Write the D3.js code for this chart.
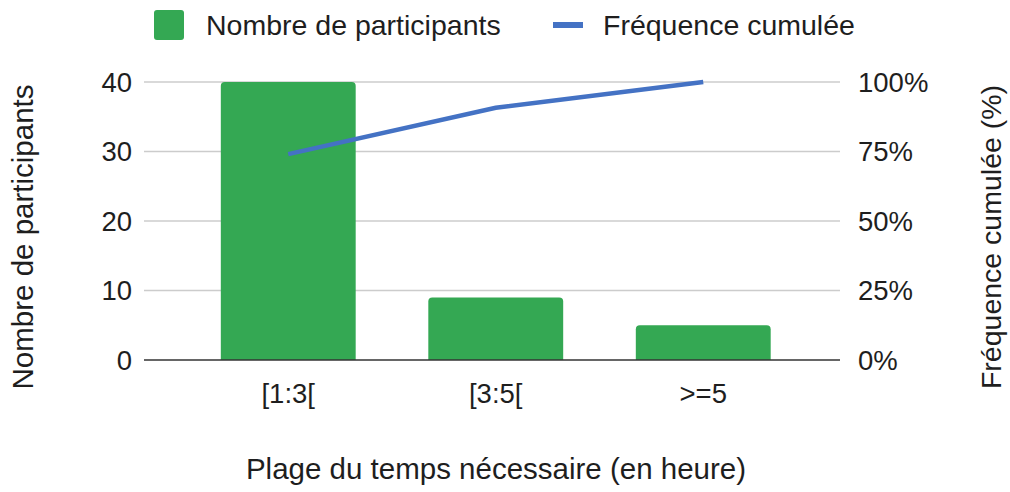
<!DOCTYPE html>
<html>
<head>
<meta charset="utf-8">
<script src="https://cdn.jsdelivr.net/npm/d3@7"></script>
<style>
body { margin: 0; background: #fff; }
text { font-family: "Liberation Sans", Arial, sans-serif; fill: #1e1e1e; }
</style>
</head>
<body>
<svg id="chart"></svg>
<script>
const categories = ["[1:3[", "[3:5[", ">=5"];
const participants = [40, 9, 5];
const cumulative = [74.07, 90.74, 100];
const leftTicks = [0, 10, 20, 30, 40];
const rightTicks = [0, 25, 50, 75, 100];

const W = 1010, H = 492;
let svg = d3.select("#chart").attr("width", W).attr("height", H);

const gridX1 = 144, gridX2 = 840;
const plotTop = 82, plotBottom = 360;
const fs = "27.5px";
const titleFs = "29.5px";

const x = d3.scaleBand().domain(categories).range([184.5, 807]).paddingInner(0.35).paddingOuter(0.175);
const yL = d3.scaleLinear().domain([0, 40]).range([plotBottom, plotTop]);
const yR = d3.scaleLinear().domain([0, 100]).range([plotBottom, plotTop]);

// gridlines
svg.append("g").selectAll("line").data(leftTicks.slice(1)).join("line")
    .attr("x1", gridX1).attr("x2", gridX2)
    .attr("y1", d => yL(d)).attr("y2", d => yL(d))
    .style("stroke", "#cccccc").style("stroke-width", 1.5);

// bars
const barR = 4;
svg.append("g").selectAll("path").data(participants).join("path")
    .attr("d", (d, i) => {
        const x0 = x(categories[i]), w = x.bandwidth(), y0 = yL(d), y1 = yL(0);
        return `M${x0},${y1}V${y0 + barR}Q${x0},${y0} ${x0 + barR},${y0}H${x0 + w - barR}Q${x0 + w},${y0} ${x0 + w},${y0 + barR}V${y1}Z`;
    })
    .style("fill", "#34a853");

// baseline
svg.append("line").attr("x1", gridX1).attr("x2", gridX2)
    .attr("y1", yL(0)).attr("y2", yL(0))
    .style("stroke", "#333").style("stroke-width", 1.5);

// line
const line = d3.line()
    .x((d, i) => x(categories[i]) + x.bandwidth() / 2)
    .y(d => yR(d));
svg.append("path").attr("d", line(cumulative))
    .style("fill", "none").style("stroke", "#4472c4").style("stroke-width", 4.5);

// left axis labels
svg.append("g").selectAll("text").data(leftTicks).join("text")
    .attr("x", 132).attr("y", d => yL(d)).attr("dy", "0.36em")
    .attr("text-anchor", "end").style("font-size", fs)
    .text(d => d);

// right axis labels
svg.append("g").selectAll("text").data(rightTicks).join("text")
    .attr("x", 858).attr("y", d => yR(d)).attr("dy", "0.36em")
    .attr("text-anchor", "start").style("font-size", fs)
    .text(d => d + "%");

// category labels
svg.append("g").selectAll("text").data(categories).join("text")
    .attr("x", d => x(d) + x.bandwidth() / 2).attr("y", 403)
    .attr("text-anchor", "middle").style("font-size", fs)
    .text(d => d);

// axis titles
svg.append("text").attr("x", 496).attr("y", 479)
    .attr("text-anchor", "middle").style("font-size", titleFs)
    .text("Plage du temps nécessaire (en heure)");
svg.append("text").attr("transform", "translate(33,237) rotate(-90)")
    .attr("text-anchor", "middle").style("font-size", titleFs)
    .text("Nombre de participants");
svg.append("text").attr("transform", "translate(1001,237) rotate(-90)")
    .attr("text-anchor", "middle").style("font-size", "28.5px")
    .text("Fréquence cumulée (%)");

// legend
const legend = svg.append("g");
legend.append("rect").attr("x", 154).attr("y", 10).attr("width", 30).attr("height", 30).attr("rx", 3)
    .style("fill", "#34a853");
legend.append("text").attr("x", 206).attr("y", 35).style("font-size", "28.5px")
    .text("Nombre de participants");
legend.append("rect").attr("x", 553).attr("y", 22).attr("width", 30).attr("height", 6)
    .style("fill", "#4472c4");
legend.append("text").attr("x", 603).attr("y", 35).style("font-size", "28.5px")
    .text("Fréquence cumulée");
</script>
</body>
</html>
